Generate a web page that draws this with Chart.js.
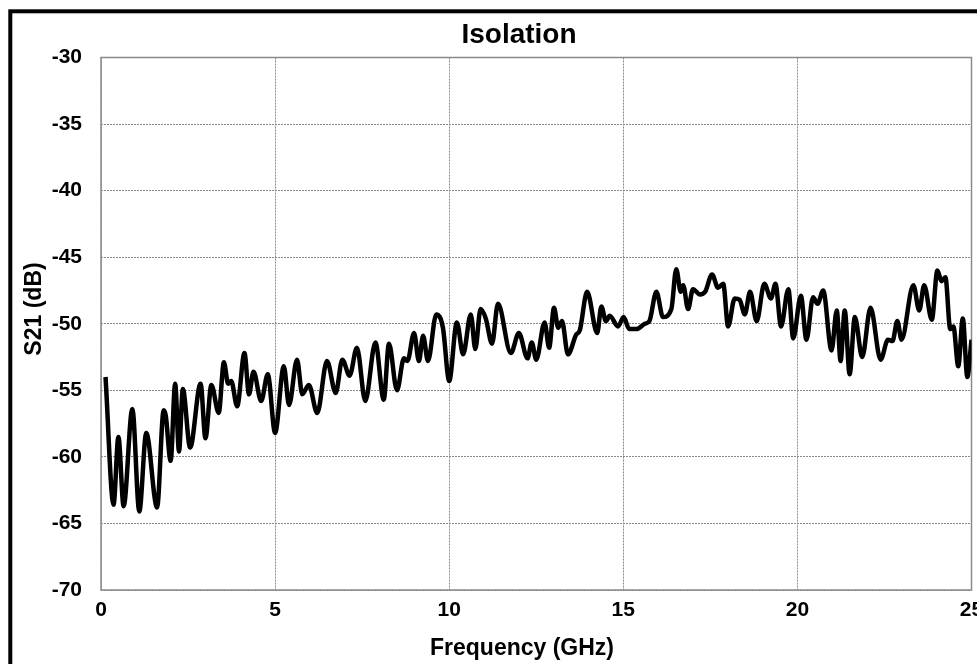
<!DOCTYPE html>
<html>
<head>
<meta charset="utf-8">
<title>Isolation</title>
<script src="https://cdn.jsdelivr.net/npm/chart.js@4.4.1/dist/chart.umd.min.js"></script>
<style>
  html, body { margin: 0; padding: 0; background: #fff; }
  #wrap { width: 977px; height: 664px; }
</style>
</head>
<body>
<div id="wrap"><canvas id="isoChart" width="977" height="664"></canvas></div>
<script>
const freqGHz = [
  0.13, 0.36, 0.50, 0.65, 0.90, 1.10, 1.30, 1.61, 1.80, 1.86,
  2.00, 2.13, 2.24, 2.35, 2.56, 2.86, 3.00, 3.17, 3.38, 3.53,
  3.65, 3.74, 3.91, 4.12, 4.25, 4.38, 4.60, 4.79, 5.00, 5.25,
  5.40, 5.63, 5.78, 5.97, 6.21, 6.49, 6.74, 6.93, 7.14, 7.35,
  7.59, 7.88, 8.12, 8.27, 8.50, 8.70, 8.80, 8.99, 9.13, 9.25,
  9.39, 9.63, 9.82, 10.00, 10.22, 10.40, 10.62, 10.75, 10.90, 11.05,
  11.23, 11.40, 11.77, 12.00, 12.25, 12.37, 12.50, 12.74, 12.87, 13.01,
  13.13, 13.24, 13.41, 13.65, 13.75, 13.96, 14.25, 14.37, 14.50, 14.61,
  14.85, 15.01, 15.17, 15.38, 15.62, 15.75, 15.95, 16.14, 16.38, 16.52,
  16.65, 16.72, 16.86, 17.00, 17.20, 17.35, 17.55, 17.72, 17.87, 18.01,
  18.20, 18.34, 18.49, 18.64, 18.83, 19.05, 19.24, 19.37, 19.53, 19.74,
  19.88, 20.10, 20.26, 20.45, 20.58, 20.74, 20.98, 21.13, 21.24, 21.36,
  21.50, 21.65, 21.86, 22.10, 22.39, 22.60, 22.73, 22.87, 22.99, 23.33,
  23.50, 23.64, 23.86, 24.02, 24.14, 24.25, 24.39, 24.48, 24.62, 24.75,
  24.88, 25.00
];
const s21dB = [
  -54.0, -63.6, -58.5, -63.7, -56.4, -64.1, -58.2, -63.8, -56.5, -56.9,
  -60.3, -54.5, -59.6, -54.9, -59.3, -54.5, -58.6, -54.6, -56.7, -52.9,
  -54.5, -54.3, -56.2, -52.2, -55.3, -53.6, -55.8, -53.8, -58.2, -53.2,
  -56.1, -52.7, -55.3, -54.6, -56.7, -52.8, -55.2, -52.7, -53.9, -51.8,
  -55.8, -51.4, -55.7, -51.5, -55.0, -52.6, -52.8, -50.7, -52.8, -50.9,
  -52.8, -49.3, -50.3, -54.3, -49.9, -52.3, -49.3, -51.9, -48.9, -49.6,
  -51.5, -48.5, -52.2, -50.7, -52.6, -51.4, -52.7, -49.9, -51.8, -48.8,
  -50.3, -49.8, -52.3, -50.8, -50.5, -47.6, -50.7, -48.7, -49.8, -49.4,
  -50.2, -49.5, -50.4, -50.4, -50.0, -49.8, -47.6, -49.5, -48.9, -45.9,
  -47.6, -47.1, -48.9, -47.4, -47.8, -47.6, -46.3, -47.3, -47.0, -50.2,
  -48.1, -48.2, -49.3, -47.6, -49.8, -47.0, -48.1, -47.0, -50.2, -47.4,
  -51.1, -47.9, -51.2, -48.0, -48.5, -47.5, -52.0, -49.0, -52.8, -49.0,
  -53.8, -49.5, -52.5, -48.8, -52.7, -51.2, -51.3, -49.8, -51.2, -47.1,
  -49.0, -47.1, -49.7, -46.0, -46.8, -46.5, -50.4, -50.2, -53.2, -49.6,
  -54.0, -51.2
];
const xTicks = [0, 5, 10, 15, 20, 25];
const yTicks = [-70, -65, -60, -55, -50, -45, -40, -35, -30];

const chartTitle = 'Isolation';
const xTitle = 'Frequency (GHz)';
const yTitle = 'S21 (dB)';

const fontFamily = 'Arial, "Liberation Sans", sans-serif';

// outer frame, plot box and the three titles
const framePlugin = {
  id: 'frame',
  beforeDraw(chart) {
    const c = chart.ctx;
    c.save();
    c.fillStyle = '#fff';
    c.fillRect(0, 0, chart.width, chart.height);
    c.strokeStyle = '#000';
    c.lineWidth = 4;
    c.strokeRect(10.3, 11.3, chart.width + 40, chart.height + 40);
    c.restore();
  },
  beforeDatasetsDraw(chart) {
    const a = chart.chartArea;
    const c = chart.ctx;
    c.save();
    c.strokeStyle = '#8a8a8a';
    c.lineWidth = 1.5;
    c.strokeRect(a.left, a.top, a.right - a.left, a.bottom - a.top);
    c.restore();
  },
  afterDraw(chart) {
    const c = chart.ctx;
    c.save();
    c.fillStyle = '#000';
    c.textAlign = 'center';
    c.textBaseline = 'middle';
    c.font = 'bold 28px ' + fontFamily;
    c.fillText(chartTitle, 519, 35);
    c.font = 'bold 23px ' + fontFamily;
    c.fillText(xTitle, 522, 649);
    c.translate(35, 309);
    c.rotate(-Math.PI / 2);
    c.fillText(yTitle, 0, 0);
    c.restore();
  }
};

const ctx = document.getElementById('isoChart').getContext('2d');
const chart = new Chart(ctx, {
  type: 'line',
  data: {
    datasets: [{
      label: 'S21',
      data: freqGHz.map((f, i) => ({ x: f, y: s21dB[i] })),
      borderColor: '#000',
      borderWidth: 4.5,
      pointRadius: 0,
      fill: false,
      cubicInterpolationMode: 'monotone'
    }]
  },
  options: {
    responsive: false,
    animation: false,
    layout: { padding: { top: 57.5, right: 5.5, left: 0, bottom: 0 } },
    plugins: {
      legend: { display: false },
      title: { display: false },
      tooltip: { enabled: false }
    },
    scales: {
      x: {
        type: 'linear',
        min: 0,
        max: 25,
        afterBuildTicks: s => { s.ticks = xTicks.map(v => ({ value: v })); },
        ticks: {
          color: '#000',
          padding: 8,
          maxRotation: 0,
          autoSkip: false,
          font: { family: fontFamily, size: 21, weight: 'bold' }
        },
        grid: { color: '#8a8a8a', lineWidth: 1, drawTicks: false },
        border: { display: false, dash: [2, 1] },
        afterFit: s => { s.height = 74; s.paddingLeft = 0; s.paddingRight = 0; }
      },
      y: {
        min: -70,
        max: -30,
        afterBuildTicks: s => { s.ticks = yTicks.map(v => ({ value: v })); },
        ticks: {
          color: '#000',
          padding: 19,
          font: { family: fontFamily, size: 21, weight: 'bold' }
        },
        grid: { color: '#8a8a8a', lineWidth: 1, drawTicks: false },
        border: { display: false, dash: [2, 1] },
        afterFit: s => { s.width = 101; s.paddingTop = 0; s.paddingBottom = 0; }
      }
    }
  },
  plugins: [framePlugin]
});
</script>
</body>
</html>
